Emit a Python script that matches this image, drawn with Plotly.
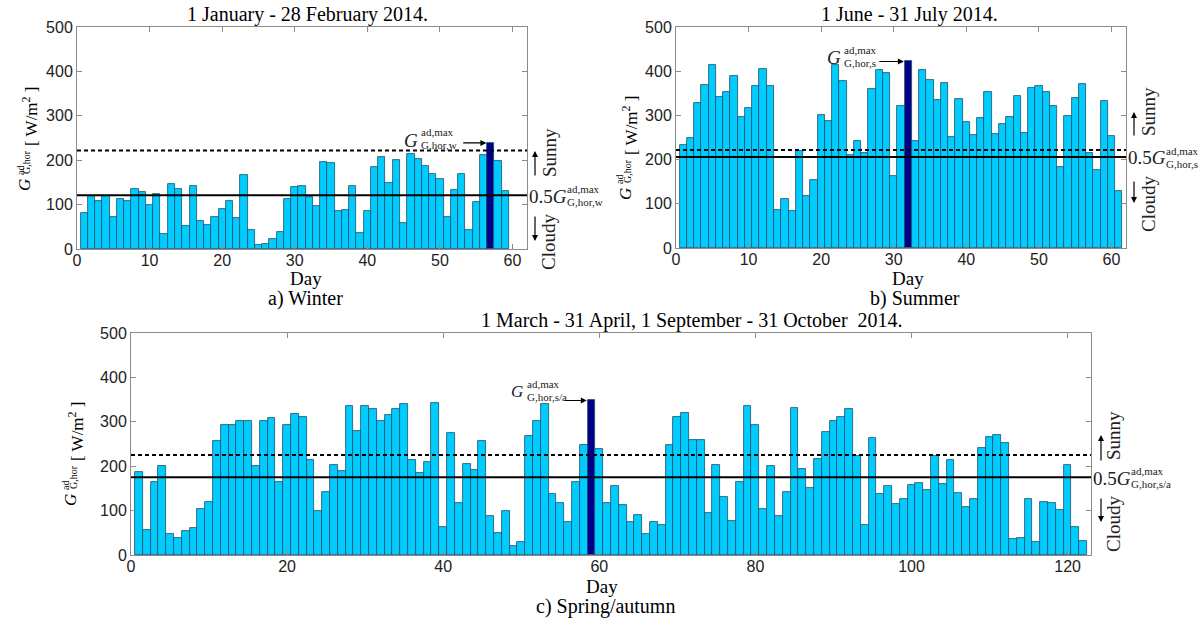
import plotly.graph_objects as go

W, H = 1203, 620
SERIF = "Liberation Serif, Times New Roman, serif"
SANS = "Liberation Sans, Arial, sans-serif"

# ---------------- data ----------------
winter_days = list(range(1, 60))
winter_vals = [80, 119, 108, 119, 72, 112, 108, 135, 128, 100, 125, 33, 147, 135, 52, 142, 63, 53, 72, 89,
               108, 69, 167, 43, 10, 12, 22, 38, 112, 139, 142, 118, 97, 196, 194, 86, 88, 142, 35, 86,
               185, 208, 148, 200, 59, 215, 203, 187, 169, 157, 73, 133, 169, 43, 105, 211, 239, 199, 130]
winter_sunny = 222
winter_half = 121

summer_days = list(range(1, 62))
summer_vals = [232, 250, 327, 369, 415, 341, 353, 390, 296, 317, 367, 405, 366, 87, 110, 84, 220, 117, 153, 302,
               287, 415, 378, 211, 241, 214, 359, 403, 397, 164, 322, 422, 241, 403, 380, 334, 373, 251, 338, 284,
               255, 294, 352, 259, 281, 296, 344, 260, 363, 366, 353, 321, 183, 299, 340, 370, 216, 176, 332, 253,
               130]
summer_sunny = 222
summer_half = 206

sa_days = list(range(1, 123))
sa_vals = [186, 57, 165, 200, 47, 38, 55, 61, 103, 120,
           257, 293, 292, 302, 302, 201, 302, 308, 164, 292,
           317, 311, 215, 98, 143, 202, 189, 335, 280, 335,
           329, 302, 315, 329, 341, 213, 184, 210, 343, 63,
           274, 118, 205, 191, 256, 87, 50, 100, 20, 29,
           268, 301, 341, 137, 117, 74, 164, 247, 348, 238,
           118, 156, 113, 74, 90, 48, 75, 68, 248, 310,
           319, 260, 260, 95, 202, 130, 77, 165, 336, 292,
           104, 201, 87, 141, 330, 194, 150, 217, 276, 302,
           311, 328, 224, 68, 263, 138, 156, 114, 127, 157,
           162, 147, 224, 161, 215, 139, 108, 126, 240, 266,
           271, 253, 35, 38, 127, 30, 120, 117, 102, 202, 64, 32]
sa_sunny = 225
sa_half = 175

x_ticks_short = [0, 10, 20, 30, 40, 50, 60]
x_ticks_long = [0, 20, 40, 60, 80, 100, 120]
y_ticks = [0, 100, 200, 300, 400, 500]

BAR = "#00CCFF"
BAR_MAX = "#000088"
EDGE = "#1d4f66"
AX = "#8c8c8c"

fig = go.Figure()


def add_panel(days, vals, xa, ya):
    mday = days[vals.index(max(vals))]
    colors = [BAR_MAX if d == mday else BAR for d in days]
    fig.add_trace(go.Bar(x=days, y=vals, width=1.0, xaxis=xa, yaxis=ya,
                         marker=dict(color=colors, line=dict(color=EDGE, width=0.8)),
                         showlegend=False))
    return mday, max(vals)


w_mday, w_max = add_panel(winter_days, winter_vals, "x", "y")
s_mday, s_max = add_panel(summer_days, summer_vals, "x2", "y2")
a_mday, a_max = add_panel(sa_days, sa_vals, "x3", "y3")


def xax(dom, rng, ticks, anchor):
    return dict(domain=dom, range=rng, tickvals=ticks, anchor=anchor, showline=True, linecolor=AX,
                linewidth=1, mirror="ticks", ticks="inside", ticklen=5, tickcolor=AX, showgrid=False,
                zeroline=False, automargin=False, tickfont=dict(family=SANS, size=16, color="#222"),
                ticklabelstandoff=-3, fixedrange=True)


def yax(dom, anchor):
    return dict(domain=dom, range=[0, 500], tickvals=y_ticks, anchor=anchor, showline=True, linecolor=AX,
                linewidth=1, mirror="ticks", ticks="inside", ticklen=5, tickcolor=AX, showgrid=False,
                zeroline=False, automargin=False, tickfont=dict(family=SANS, size=16, color="#222"),
                fixedrange=True)


def pdx(px):
    return px / W


def pdy(py):
    return 1 - py / H


fig.update_layout(
    template="none",
    width=W, height=H, margin=dict(l=0, r=0, t=0, b=0, pad=0), autosize=False,
    paper_bgcolor="white", plot_bgcolor="white", bargap=0, showlegend=False,
    xaxis=xax([pdx(77), pdx(527)], [0, 62], x_ticks_short, "y"),
    yaxis=yax([pdy(249), pdy(27)], "x"),
    xaxis2=xax([pdx(676), pdx(1126)], [0, 62], x_ticks_short, "y2"),
    yaxis2=yax([pdy(248), pdy(27)], "x2"),
    xaxis3=xax([pdx(131), pdx(1091)], [0, 123], x_ticks_long, "y3"),
    yaxis3=yax([pdy(555), pdy(333)], "x3"),
)

# threshold lines
for xr, yr, sunny, half in [("x", "y", winter_sunny, winter_half),
                            ("x2", "y2", summer_sunny, summer_half),
                            ("x3", "y3", sa_sunny, sa_half)]:
    fig.add_shape(type="line", xref=xr + " domain", yref=yr, x0=0, x1=1, y0=sunny, y1=sunny,
                  line=dict(color="black", width=2, dash="4px,3px"))
    fig.add_shape(type="line", xref=xr + " domain", yref=yr, x0=0, x1=1, y0=half, y1=half,
                  line=dict(color="black", width=2))

anns = []


def txt(text, x, y, size, xanchor="center", yanchor="middle", angle=0, family=SERIF, color="black"):
    anns.append(dict(text=text, x=pdx(x), y=pdy(y), xref="paper", yref="paper", showarrow=False,
                     xanchor=xanchor, yanchor=yanchor, textangle=angle,
                     font=dict(family=family, size=size, color=color)))


def arrow(x, y0, y1):
    # tail at y0, head at y1 (pixels)
    anns.append(dict(text="", x=pdx(x), y=pdy(y1), xref="paper", yref="paper", ax=0, ay=y0 - y1,
                     showarrow=True, arrowhead=2, arrowsize=1, arrowwidth=1.2, arrowcolor="black",
                     standoff=0, startstandoff=0))


# titles and captions
txt("1 January - 28 February 2014.", 307, 15, 20)
txt("1 June - 31 July 2014.", 909, 15, 20)
txt("1 March - 31 April, 1 September - 31 October&nbsp; 2014.", 692, 320, 20)
txt("Day", 306, 278, 19)
txt("a) Winter", 305, 298, 20)
txt("Day", 908, 278, 19)
txt("b) Summer", 915, 298, 20)
txt("Day", 602, 586, 19)
txt("c) Spring/autumn", 605, 606, 20)


# y-axis titles (rotated)
def ytitle(gx, gy):
    txt("<i>G</i>", gx, gy, 17, angle=-90)
    txt("ad", gx - 5, gy - 14, 10, angle=-90)
    txt("G,hor", gx + 2, gy - 23, 10, angle=-90)
    txt("[ W/m<sup>2</sup> ]", gx + 5, gy - 68, 17, angle=-90)


ytitle(25, 185)
ytitle(625, 194)
ytitle(71, 500)


# right-hand labels
def right_labels(xr, yr, half, sun_c, cloud_c, up, down, sub):
    anns.append(dict(text="0.5<i>G</i>", xref=xr + " domain", yref=yr, x=1, y=half, xanchor="left",
                     yanchor="middle", xshift=0, yshift=-1, showarrow=False,
                     font=dict(family=SERIF, size=19, color="#222")))
    anns.append(dict(text="ad,max", xref=xr + " domain", yref=yr, x=1, y=half, xanchor="left",
                     yanchor="middle", xshift=38, yshift=6, showarrow=False,
                     font=dict(family=SERIF, size=11, color="#222")))
    anns.append(dict(text=sub, xref=xr + " domain", yref=yr, x=1, y=half, xanchor="left",
                     yanchor="middle", xshift=38, yshift=-7, showarrow=False,
                     font=dict(family=SERIF, size=11, color="#222")))
    txt("Sunny", sun_c[0], sun_c[1], 19, angle=-90, color="#222")
    txt("Cloudy", cloud_c[0], cloud_c[1], 19, angle=-90, color="#222")
    arrow(up[0], up[1], up[2])
    arrow(down[0], down[1], down[2])


right_labels("x", "y", winter_half, (549, 153), (548, 242), (535, 177, 151), (535, 215, 241), "G,hor,w")
right_labels("x2", "y2", summer_half, (1148, 112), (1148, 204), (1134, 137, 112), (1134, 180, 203), "G,hor,s")
right_labels("x3", "y3", sa_half, (1113, 436), (1113, 524), (1101, 462, 435), (1101, 497, 522), "G,hor,s/a")


# max labels with arrows to the maximum bar
def max_label(gx, gy, gsize, sub, xr, yr, tail_x, mday, mval):
    txt("<i>G</i>", gx, gy, gsize, color="#222")
    txt("ad,max", gx + 8, gy - 8, 11, xanchor="left", color="#222")
    txt(sub, gx + 8, gy + 5, 11, xanchor="left", color="#222")
    anns.append(dict(text="", xref=xr, yref=yr, axref=xr, ayref=yr, x=mday - 0.6, y=mval,
                     ax=tail_x, ay=mval, showarrow=True, arrowhead=2, arrowsize=1, arrowwidth=1.2,
                     arrowcolor="black", standoff=0, startstandoff=0))


max_label(411, 140, 19, "G,hor,w", "x", "y", 53.0, w_mday, w_max)
max_label(834, 58, 19, "G,hor,s", "x2", "y2", 27.8, s_mday, s_max)
max_label(517, 392, 17, "G,hor,s/a", "x3", "y3", 55.4, a_mday, a_max)

fig.update_layout(annotations=anns)
fig.write_html("out.html", config={"displayModeBar": False},
               post_script="document.body.style.margin='0px';")
